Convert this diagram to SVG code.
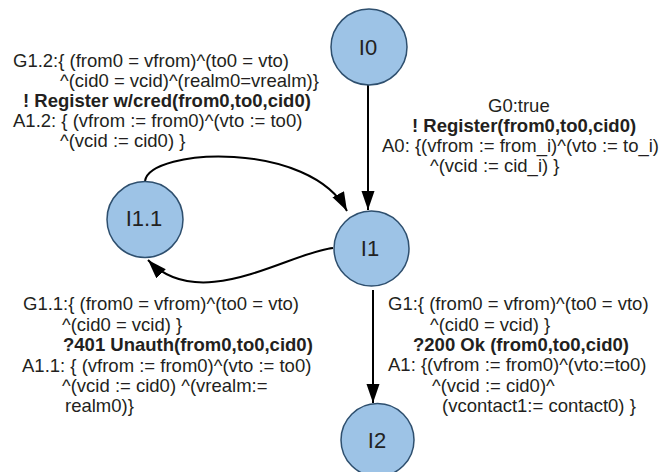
<svg xmlns="http://www.w3.org/2000/svg" width="664" height="472" viewBox="0 0 664 472">
  <style>
    .node circle { fill: #9DC3E6; stroke: #2E4F6E; stroke-width: 1.5; }
    .node text { font-family: "Liberation Sans", Arial, sans-serif; font-size: 22px; fill: #222; text-anchor: middle; dominant-baseline: central; }
    .edge { fill: none; stroke: #000; stroke-width: 2; }
    .lbl text { font-family: "Liberation Sans", Arial, sans-serif; font-size: 18.5px; fill: #231f20; }
    .lbl text.b { font-weight: bold; }
  </style>
  <defs>
    <marker id="arr" markerUnits="userSpaceOnUse" markerWidth="20" markerHeight="14" refX="19" refY="6.5" orient="auto">
      <path d="M0,0 L19,6.5 L0,13 Z" fill="#000"/>
    </marker>
  </defs>
  <rect width="664" height="472" fill="#fff"/>

  <g id="connectors">
    <path class="edge" d="M368,85 L368,210" marker-end="url(#arr)"/>
    <path class="edge" d="M373,290 L373,403" marker-end="url(#arr)"/>
    <path class="edge" d="M145,181 C150,148 310,140 347,211" marker-end="url(#arr)"/>
    <path class="edge" d="M333,248 C290,252 200,315 148,260" marker-end="url(#arr)"/>
  </g>

  <g id="I0" class="node">
    <circle cx="369" cy="47" r="38"/>
    <text x="368" y="47">I0</text>
  </g>
  <g id="I1.1" class="node">
    <circle cx="145" cy="219.5" r="38"/>
    <text x="144" y="218">I1.1</text>
  </g>
  <g id="I1" class="node">
    <circle cx="371.5" cy="248.5" r="37.5"/>
    <text x="370" y="248">I1</text>
  </g>
  <g id="I2" class="node">
    <circle cx="377.5" cy="440" r="36.5"/>
    <text x="377" y="440">I2</text>
  </g>

  <g id="label-I1.1-I1" class="lbl">
    <text x="13" y="66.5">G1.2:{ (from0 = vfrom)^(to0 = vto)</text>
    <text x="60" y="86.5">^(cid0 = vcid)^(realm0=vrealm)}</text>
    <text class="b" x="23" y="106.5">! Register w/cred(from0,to0,cid0)</text>
    <text x="13" y="127">A1.2: { (vfrom := from0)^(vto := to0)</text>
    <text x="60" y="147">^(vcid := cid0) }</text>
  </g>

  <g id="label-I0-I1" class="lbl">
    <text x="488" y="112">G0:true</text>
    <text class="b" x="412" y="132">! Register(from0,to0,cid0)</text>
    <text x="382" y="152">A0: {(vfrom := from_i)^(vto := to_i)</text>
    <text x="430" y="172">^(vcid := cid_i) }</text>
  </g>

  <g id="label-I1-I1.1" class="lbl">
    <text x="23" y="310">G1.1:{ (from0 = vfrom)^(to0 = vto)</text>
    <text x="62" y="330.5">^(cid0 = vcid) }</text>
    <text class="b" x="63" y="351">?401 Unauth(from0,to0,cid0)</text>
    <text x="22" y="371.5">A1.1: { (vfrom := from0)^(vto := to0)</text>
    <text x="62" y="392">^(vcid := cid0) ^(vrealm:=</text>
    <text x="65" y="412">realm0)}</text>
  </g>

  <g id="label-I1-I2" class="lbl">
    <text x="388" y="310">G1:{ (from0 = vfrom)^(to0 = vto)</text>
    <text x="430" y="330.5">^(cid0 = vcid) }</text>
    <text class="b" x="413" y="351">?200 Ok (from0,to0,cid0)</text>
    <text x="388" y="371">A1: {(vfrom := from0)^(vto:=to0)</text>
    <text x="432" y="392">^(vcid := cid0)^</text>
    <text x="442" y="412">(vcontact1:= contact0) }</text>
  </g>
</svg>
